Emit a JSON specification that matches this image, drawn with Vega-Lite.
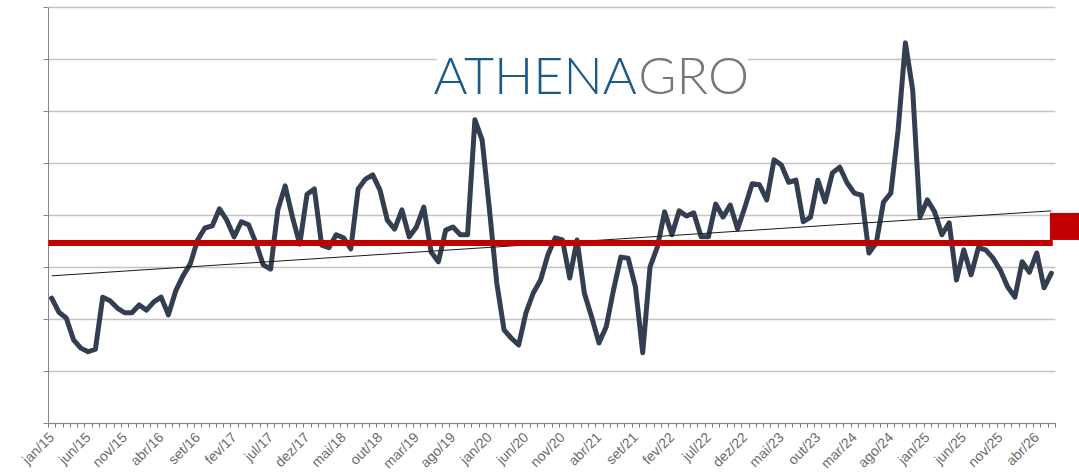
{
  "$schema": "https://vega.github.io/schema/vega-lite/v6.json",
  "autosize": "none",
  "width": 1007,
  "height": 416,
  "padding": {"left": 48, "top": 7, "right": 24, "bottom": 53},
  "background": "white",
  "config": {"view": {"stroke": null}},
  "datasets": {
    "serie": [
      {"i":0,"v":2.40},{"i":1,"v":2.13},{"i":2,"v":2.02},{"i":3,"v":1.60},{"i":4,"v":1.44},{"i":5,"v":1.37},{"i":6,"v":1.42},{"i":7,"v":2.42},{"i":8,"v":2.35},{"i":9,"v":2.21},
      {"i":10,"v":2.12},{"i":11,"v":2.12},{"i":12,"v":2.27},{"i":13,"v":2.17},{"i":14,"v":2.33},{"i":15,"v":2.42},{"i":16,"v":2.08},{"i":17,"v":2.54},{"i":18,"v":2.83},{"i":19,"v":3.06},
      {"i":20,"v":3.52},{"i":21,"v":3.75},{"i":22,"v":3.79},{"i":23,"v":4.12},{"i":24,"v":3.90},{"i":25,"v":3.58},{"i":26,"v":3.87},{"i":27,"v":3.81},{"i":28,"v":3.46},{"i":29,"v":3.04},
      {"i":30,"v":2.96},{"i":31,"v":4.10},{"i":32,"v":4.56},{"i":33,"v":3.96},{"i":34,"v":3.44},{"i":35,"v":4.40},{"i":36,"v":4.50},{"i":37,"v":3.42},{"i":38,"v":3.37},{"i":39,"v":3.62},
      {"i":40,"v":3.56},{"i":41,"v":3.35},{"i":42,"v":4.50},{"i":43,"v":4.69},{"i":44,"v":4.77},{"i":45,"v":4.48},{"i":46,"v":3.90},{"i":47,"v":3.73},{"i":48,"v":4.10},{"i":49,"v":3.58},
      {"i":50,"v":3.77},{"i":51,"v":4.15},{"i":52,"v":3.29},{"i":53,"v":3.10},{"i":54,"v":3.71},{"i":55,"v":3.77},{"i":56,"v":3.62},{"i":57,"v":3.62},{"i":58,"v":5.83},{"i":59,"v":5.44},
      {"i":60,"v":4.10},{"i":61,"v":2.69},{"i":62,"v":1.79},{"i":63,"v":1.63},{"i":64,"v":1.50},{"i":65,"v":2.12},{"i":66,"v":2.50},{"i":67,"v":2.75},{"i":68,"v":3.23},{"i":69,"v":3.56},
      {"i":70,"v":3.52},{"i":71,"v":2.79},{"i":72,"v":3.52},{"i":73,"v":2.50},{"i":74,"v":2.04},{"i":75,"v":1.54},{"i":76,"v":1.85},{"i":77,"v":2.56},{"i":78,"v":3.19},{"i":79,"v":3.17},
      {"i":80,"v":2.62},{"i":81,"v":1.35},{"i":82,"v":3.00},{"i":83,"v":3.38},{"i":84,"v":4.06},{"i":85,"v":3.62},{"i":86,"v":4.08},{"i":87,"v":3.98},{"i":88,"v":4.04},{"i":89,"v":3.58},
      {"i":90,"v":3.58},{"i":91,"v":4.21},{"i":92,"v":3.96},{"i":93,"v":4.19},{"i":94,"v":3.73},{"i":95,"v":4.15},{"i":96,"v":4.60},{"i":97,"v":4.58},{"i":98,"v":4.29},{"i":99,"v":5.06},
      {"i":100,"v":4.96},{"i":101,"v":4.63},{"i":102,"v":4.67},{"i":103,"v":3.87},{"i":104,"v":3.96},{"i":105,"v":4.67},{"i":106,"v":4.25},{"i":107,"v":4.81},{"i":108,"v":4.92},{"i":109,"v":4.62},
      {"i":110,"v":4.42},{"i":111,"v":4.38},{"i":112,"v":3.27},{"i":113,"v":3.46},{"i":114,"v":4.25},{"i":115,"v":4.42},{"i":116,"v":5.63},{"i":117,"v":7.31},{"i":118,"v":6.40},{"i":119,"v":3.96},
      {"i":120,"v":4.29},{"i":121,"v":4.06},{"i":122,"v":3.62},{"i":123,"v":3.85},{"i":124,"v":2.75},{"i":125,"v":3.33},{"i":126,"v":2.85},{"i":127,"v":3.37},{"i":128,"v":3.33},{"i":129,"v":3.17},
      {"i":130,"v":2.94},{"i":131,"v":2.62},{"i":132,"v":2.42},{"i":133,"v":3.10},{"i":134,"v":2.90},{"i":135,"v":3.27},{"i":136,"v":2.60},{"i":137,"v":2.88}
    ],
    "tendencia": [{"i":0,"v":2.83},{"i":137,"v":4.08}],
    "uma": [{}]
  },
  "layer": [
    {
      "data": {"name": "serie"},
      "mark": {"type": "line", "color": "#333F50", "strokeWidth": 5, "strokeJoin": "round", "strokeCap": "round"},
      "encoding": {
        "x": {
          "field": "i", "type": "quantitative",
          "scale": {"domain": [-0.5, 137.5], "nice": false, "zero": false},
          "axis": {
            "title": null,
            "grid": false,
            "tickCount": 400,
            "domainColor": "#868686",
            "domainWidth": 1,
            "tickColor": "#7a7a7a",
            "tickSize": 4,
            "tickWidth": 1,
            "tickOpacity": {"condition": {"test": "datum.value % 1 == 0", "value": 0}, "value": 1},
            "values": [-0.5,0,0.5,1.5,2.5,3.5,4.5,5,5.5,6.5,7.5,8.5,9.5,10,10.5,11.5,12.5,13.5,14.5,15,15.5,16.5,17.5,18.5,19.5,20,20.5,21.5,22.5,23.5,24.5,25,25.5,26.5,27.5,28.5,29.5,30,30.5,31.5,32.5,33.5,34.5,35,35.5,36.5,37.5,38.5,39.5,40,40.5,41.5,42.5,43.5,44.5,45,45.5,46.5,47.5,48.5,49.5,50,50.5,51.5,52.5,53.5,54.5,55,55.5,56.5,57.5,58.5,59.5,60,60.5,61.5,62.5,63.5,64.5,65,65.5,66.5,67.5,68.5,69.5,70,70.5,71.5,72.5,73.5,74.5,75,75.5,76.5,77.5,78.5,79.5,80,80.5,81.5,82.5,83.5,84.5,85,85.5,86.5,87.5,88.5,89.5,90,90.5,91.5,92.5,93.5,94.5,95,95.5,96.5,97.5,98.5,99.5,100,100.5,101.5,102.5,103.5,104.5,105,105.5,106.5,107.5,108.5,109.5,110,110.5,111.5,112.5,113.5,114.5,115,115.5,116.5,117.5,118.5,119.5,120,120.5,121.5,122.5,123.5,124.5,125,125.5,126.5,127.5,128.5,129.5,130,130.5,131.5,132.5,133.5,134.5,135,135.5,136.5,137.5],
            "labelExpr": "datum.value % 1 != 0 ? '' : ['jan','fev','mar','abr','mai','jun','jul','ago','set','out','nov','dez'][datum.value % 12] + '/' + (15 + floor(datum.value / 12))",
            "labelAngle": -45,
            "labelAlign": "right",
            "labelBaseline": "middle",
            "labelPadding": 8,
            "labelOverlap": false,
            "labelFlush": false,
            "labelBound": false,
            "labelFont": "Liberation Sans",
            "labelFontSize": 14,
            "labelColor": "#6b6b6b"
          }
        },
        "y": {
          "field": "v", "type": "quantitative",
          "scale": {"domain": [0, 8], "nice": false, "zero": true},
          "axis": {
            "title": null,
            "values": [0,1,2,3,4,5,6,7,8],
            "tickCount": 20,
            "labels": false,
            "grid": true,
            "gridColor": "#C4C4C4",
            "gridWidth": 1.3,
            "domainColor": "#868686",
            "domainWidth": 1,
            "tickColor": "#868686",
            "tickSize": 5
          }
        }
      }
    },
    {
      "data": {"name": "uma"},
      "mark": {"type": "rect", "fill": "white"},
      "encoding": {
        "x": {"datum": 52.8, "type": "quantitative"},
        "x2": {"datum": 95.4},
        "y": {"datum": 7.27, "type": "quantitative"},
        "y2": {"datum": 6.21}
      }
    },
    {
      "data": {"name": "uma"},
      "mark": {"type": "text", "text": "ATHENA", "font": "Lato", "fontWeight": 300, "fontSize": 52, "color": "#1A5A8A", "align": "right", "baseline": "alphabetic"},
      "encoding": {
        "x": {"datum": 80.2, "type": "quantitative"},
        "y": {"datum": 6.33, "type": "quantitative"}
      }
    },
    {
      "data": {"name": "uma"},
      "mark": {"type": "text", "text": "GRO", "font": "Lato", "fontWeight": 300, "fontSize": 52, "color": "#777777", "align": "left", "baseline": "alphabetic"},
      "encoding": {
        "x": {"datum": 80.4, "type": "quantitative"},
        "y": {"datum": 6.33, "type": "quantitative"}
      }
    },
    {
      "data": {"name": "tendencia"},
      "mark": {"type": "line", "color": "#1a1a1a", "strokeWidth": 1},
      "encoding": {
        "x": {"field": "i", "type": "quantitative"},
        "y": {"field": "v", "type": "quantitative"}
      }
    },
    {
      "data": {"name": "uma"},
      "mark": {"type": "rule", "color": "#C00000", "strokeWidth": 6},
      "encoding": {
        "x": {"datum": -0.45, "type": "quantitative"},
        "x2": {"datum": 137.2},
        "y": {"datum": 3.46, "type": "quantitative"}
      }
    },
    {
      "data": {"name": "uma"},
      "mark": {"type": "rect", "fill": "#C00000"},
      "encoding": {
        "x": {"datum": 136.8, "type": "quantitative"},
        "x2": {"datum": 140.8},
        "y": {"datum": 4.04, "type": "quantitative"},
        "y2": {"datum": 3.52}
      }
    }
  ]
}
